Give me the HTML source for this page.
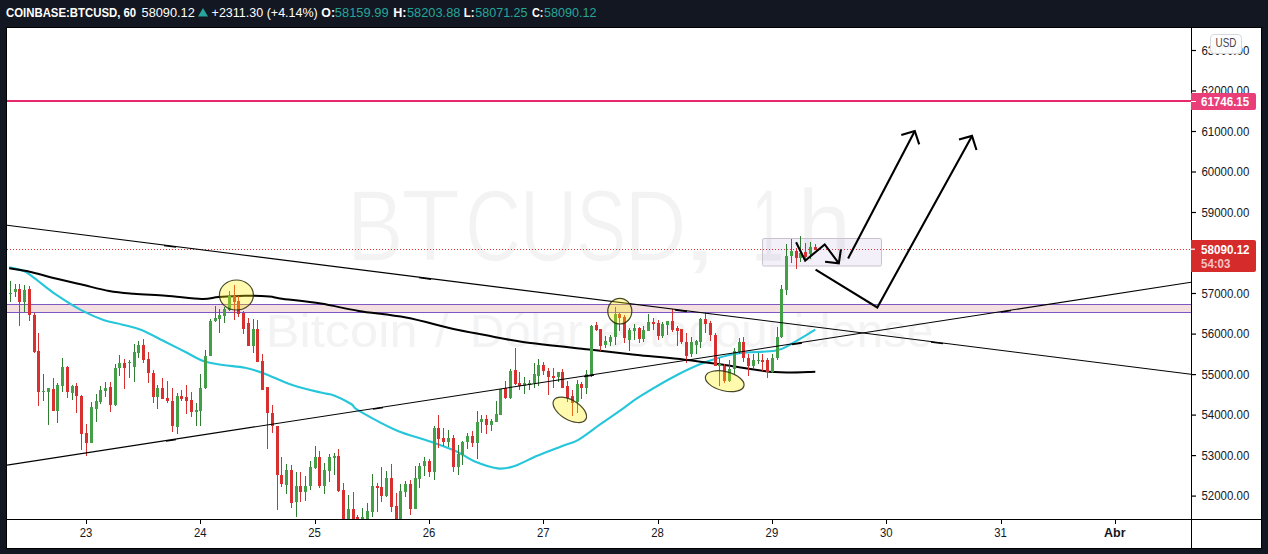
<!DOCTYPE html><html><head><meta charset="utf-8"><style>
html,body{margin:0;padding:0;width:1268px;height:554px;overflow:hidden;background:#131722}
svg{position:absolute;left:0;top:0;display:block}
text{font-family:"Liberation Sans",sans-serif}
</style></head><body>
<svg width="1268" height="554" viewBox="0 0 1268 554">
<defs><clipPath id="pane"><rect x="7" y="28" width="1184" height="491"/></clipPath></defs>
<rect x="0" y="0" width="1268" height="554" fill="#131722"/>
<rect x="6" y="27" width="1256" height="522" fill="#000"/>
<rect x="7" y="28" width="1254" height="520" fill="#fff"/>
<g font-size="12.6">
<text x="6.0" y="17" fill="#ffffff" font-weight="bold" textLength="130.2" lengthAdjust="spacingAndGlyphs">COINBASE:BTCUSD, 60</text>
<text x="141.6" y="17" fill="#ffffff" textLength="53.2" lengthAdjust="spacingAndGlyphs">58090.12</text>
<path d="M198 16.6 L203 8 L208 16.6 Z" fill="#26a69a"/>
<text x="211.6" y="17" fill="#ffffff" textLength="106.2" lengthAdjust="spacingAndGlyphs">+2311.30 (+4.14%)</text>
<text x="321.3" y="17" fill="#ffffff" font-weight="bold" textLength="13.7" lengthAdjust="spacingAndGlyphs">O:</text>
<text x="334.8" y="17" fill="#26a69a" textLength="53.8" lengthAdjust="spacingAndGlyphs">58159.99</text>
<text x="393.2" y="17" fill="#ffffff" font-weight="bold" textLength="13.3" lengthAdjust="spacingAndGlyphs">H:</text>
<text x="407.0" y="17" fill="#26a69a" textLength="53.4" lengthAdjust="spacingAndGlyphs">58203.88</text>
<text x="463.8" y="17" fill="#ffffff" font-weight="bold" textLength="10.7" lengthAdjust="spacingAndGlyphs">L:</text>
<text x="475.2" y="17" fill="#26a69a" textLength="52.4" lengthAdjust="spacingAndGlyphs">58071.25</text>
<text x="532.0" y="17" fill="#ffffff" font-weight="bold" textLength="11.5" lengthAdjust="spacingAndGlyphs">C:</text>
<text x="544.1" y="17" fill="#26a69a" textLength="52.5" lengthAdjust="spacingAndGlyphs">58090.12</text>
</g>
<g clip-path="url(#pane)">
<text x="346.8" y="261" font-size="102" fill="#f3f3f4" stroke="#fff" stroke-width="1.4" textLength="56.8" lengthAdjust="spacingAndGlyphs">B</text>
<text x="401.0" y="261" font-size="102" fill="#f3f3f4" stroke="#fff" stroke-width="1.4" textLength="59.1" lengthAdjust="spacingAndGlyphs">T</text>
<text x="465.1" y="261" font-size="102" fill="#f3f3f4" stroke="#fff" stroke-width="1.4" textLength="56.3" lengthAdjust="spacingAndGlyphs">C</text>
<text x="519.5" y="261" font-size="102" fill="#f3f3f4" stroke="#fff" stroke-width="1.4" textLength="58.3" lengthAdjust="spacingAndGlyphs">U</text>
<text x="576.0" y="261" font-size="102" fill="#f3f3f4" stroke="#fff" stroke-width="1.4" textLength="50.4" lengthAdjust="spacingAndGlyphs">S</text>
<text x="623.9" y="261" font-size="102" fill="#f3f3f4" stroke="#fff" stroke-width="1.4" textLength="62.7" lengthAdjust="spacingAndGlyphs">D</text>
<text x="677.1" y="261" font-size="102" fill="#f3f3f4" stroke="#fff" stroke-width="1.4" textLength="45.4" lengthAdjust="spacingAndGlyphs">,</text>
<text x="751.8" y="261" font-size="102" fill="#f3f3f4" stroke="#fff" stroke-width="0.7" textLength="32.0" lengthAdjust="spacingAndGlyphs">1</text>
<text x="797.2" y="261" font-size="102" fill="#f3f3f4" stroke="#fff" stroke-width="0.7" textLength="54.2" lengthAdjust="spacingAndGlyphs">h</text>
<text x="265.8" y="347.3" font-size="45.8" fill="#f3f3f4" textLength="151.7" lengthAdjust="spacingAndGlyphs">Bitcoin</text>
<text x="435.0" y="347.3" font-size="45.8" fill="#f3f3f4" textLength="13.5" lengthAdjust="spacingAndGlyphs">/</text>
<text x="470.0" y="347.3" font-size="45.8" fill="#f3f3f4" textLength="113.0" lengthAdjust="spacingAndGlyphs">Dólar</text>
<text x="599.0" y="347.3" font-size="45.8" fill="#f3f3f4" textLength="334.0" lengthAdjust="spacingAndGlyphs">estadounidense</text>
<rect x="7" y="305" width="1184" height="7" fill="#f4dfe1"/>
<rect x="7" y="304" width="1184" height="1" fill="#7e57c2"/>
<rect x="7" y="312" width="1184" height="1" fill="#7e57c2"/>
<rect x="7" y="100" width="1184" height="2" fill="#e7286c"/>
<line x1="7" y1="249.5" x2="1191" y2="249.5" stroke="#e0302f" stroke-width="1" stroke-dasharray="1 2"/>
<rect x="762.5" y="238.5" width="119" height="27.5" rx="1.5" fill="rgba(150,110,200,0.1)" stroke="#c8c3cc" stroke-width="1"/>
<path d="M9.2 267.3 C11.6 267.9 19.9 269.4 23.9 271.1 C27.9 272.8 28.0 273.4 33.4 277.3 C38.8 281.2 48.2 289.3 56.1 294.7 C64.0 300.1 72.8 305.7 80.7 309.9 C88.6 314.1 96.4 317.5 103.4 320.0 C110.4 322.5 116.2 323.0 122.5 324.7 C128.8 326.4 134.2 327.1 141.5 330.0 C148.8 332.9 158.8 338.7 166.1 342.3 C173.3 345.9 178.7 348.6 185.0 351.8 C191.3 355.0 197.7 359.1 204.0 361.3 C210.3 363.5 216.2 363.9 223.0 365.0 C229.8 366.1 238.2 366.4 245.0 367.8 C251.8 369.2 256.1 370.5 264.0 373.4 C271.9 376.3 282.9 381.8 292.4 385.0 C301.9 388.2 313.9 390.9 320.8 392.6 C327.8 394.3 329.0 393.5 334.1 395.4 C339.2 397.3 347.1 401.5 351.2 404.0 C355.3 406.5 351.1 406.2 358.7 410.6 C366.3 415.0 385.3 425.5 396.7 430.5 C408.1 435.5 417.1 436.9 427.0 440.4 C436.9 443.9 448.2 447.8 456.1 451.3 C464.0 454.8 467.3 458.4 474.2 461.2 C481.1 464.0 491.0 467.5 497.6 468.4 C504.2 469.2 507.3 468.4 513.9 466.3 C520.5 464.2 528.9 459.3 537.3 455.8 C545.7 452.3 557.5 448.0 564.4 445.3 C571.3 442.6 572.8 443.1 578.8 439.6 C584.8 436.1 593.6 429.0 600.5 424.2 C607.4 419.4 613.4 415.3 620.0 410.7 C626.6 406.1 630.4 402.4 640.0 396.4 C649.6 390.4 666.5 380.4 677.5 374.7 C688.5 369.0 696.2 365.5 705.9 362.0 C715.6 358.5 724.4 355.6 735.9 353.7 C747.4 351.8 765.9 352.2 774.9 350.7 C783.9 349.2 783.1 348.2 789.8 344.7 C796.5 341.2 811.0 332.2 815.3 329.7" fill="none" stroke="#26c6da" stroke-width="2.1" stroke-linejoin="round"/>
<path d="M9.2 268.3 C12.6 268.9 22.4 270.1 29.6 271.7 C36.8 273.3 43.8 275.6 52.3 277.7 C60.8 279.8 71.2 282.1 80.7 284.3 C90.2 286.5 100.3 289.4 109.1 291.0 C117.9 292.6 124.2 293.0 133.7 293.8 C143.2 294.6 154.5 294.9 165.9 295.7 C177.3 296.5 193.1 298.7 201.9 298.9 C210.7 299.1 211.8 297.5 218.9 297.0 C226.0 296.5 236.1 295.8 244.6 295.7 C253.1 295.6 263.7 296.2 269.6 296.6 C275.5 297.1 271.5 297.2 280.0 298.4 C288.5 299.6 307.7 301.5 320.8 303.6 C333.9 305.7 344.5 308.6 358.7 310.9 C372.9 313.2 390.2 314.5 406.0 317.5 C421.8 320.5 440.3 326.0 453.5 328.9 C466.7 331.8 473.4 332.8 485.0 335.0 C496.6 337.2 505.5 339.5 522.9 341.9 C540.3 344.3 569.8 347.3 589.3 349.5 C608.8 351.7 624.0 353.5 640.0 355.2 C656.0 356.9 670.0 357.9 685.0 359.7 C700.0 361.4 714.9 363.6 729.9 365.7 C744.9 367.8 760.7 371.1 774.9 372.1 C789.1 373.1 808.6 371.8 815.3 371.7" fill="none" stroke="#000" stroke-width="2.0" stroke-linejoin="round"/>
<rect x="10" y="281" width="1" height="21" fill="#2e7d32"/><rect x="9" y="293" width="3" height="1" fill="#43a047"/><rect x="15" y="284" width="1" height="13" fill="#2e7d32"/><rect x="14" y="289" width="3" height="3" fill="#43a047"/><rect x="19" y="284" width="1" height="42" fill="#d82f2f"/><rect x="18" y="289" width="3" height="13" fill="#d82f2f"/><rect x="24" y="285" width="1" height="27" fill="#2e7d32"/><rect x="23" y="290" width="3" height="12" fill="#43a047"/><rect x="29" y="286" width="1" height="35" fill="#d82f2f"/><rect x="28" y="289" width="3" height="26" fill="#d82f2f"/><rect x="34" y="313" width="1" height="40" fill="#d82f2f"/><rect x="33" y="315" width="3" height="37" fill="#d82f2f"/><rect x="38" y="333" width="1" height="73" fill="#d82f2f"/><rect x="37" y="351" width="3" height="41" fill="#d82f2f"/><rect x="43" y="374" width="1" height="27" fill="#2e7d32"/><rect x="42" y="391" width="3" height="1" fill="#43a047"/><rect x="48" y="388" width="1" height="37" fill="#2e7d32"/><rect x="47" y="388" width="3" height="4" fill="#43a047"/><rect x="53" y="378" width="1" height="33" fill="#d82f2f"/><rect x="52" y="389" width="3" height="22" fill="#d82f2f"/><rect x="57" y="383" width="1" height="40" fill="#2e7d32"/><rect x="56" y="385" width="3" height="26" fill="#43a047"/><rect x="62" y="358" width="1" height="34" fill="#2e7d32"/><rect x="61" y="367" width="3" height="19" fill="#43a047"/><rect x="67" y="366" width="1" height="32" fill="#d82f2f"/><rect x="66" y="367" width="3" height="25" fill="#d82f2f"/><rect x="72" y="385" width="1" height="15" fill="#2e7d32"/><rect x="71" y="386" width="3" height="7" fill="#43a047"/><rect x="76" y="383" width="1" height="30" fill="#d82f2f"/><rect x="75" y="386" width="3" height="10" fill="#d82f2f"/><rect x="81" y="395" width="1" height="55" fill="#d82f2f"/><rect x="80" y="396" width="3" height="38" fill="#d82f2f"/><rect x="86" y="424" width="1" height="32" fill="#d82f2f"/><rect x="85" y="433" width="3" height="10" fill="#d82f2f"/><rect x="91" y="402" width="1" height="41" fill="#2e7d32"/><rect x="90" y="407" width="3" height="36" fill="#43a047"/><rect x="96" y="394" width="1" height="28" fill="#2e7d32"/><rect x="95" y="401" width="3" height="8" fill="#43a047"/><rect x="100" y="386" width="1" height="18" fill="#2e7d32"/><rect x="99" y="390" width="3" height="12" fill="#43a047"/><rect x="105" y="382" width="1" height="15" fill="#2e7d32"/><rect x="104" y="388" width="3" height="3" fill="#43a047"/><rect x="110" y="382" width="1" height="30" fill="#d82f2f"/><rect x="109" y="387" width="3" height="18" fill="#d82f2f"/><rect x="115" y="364" width="1" height="42" fill="#2e7d32"/><rect x="114" y="368" width="3" height="37" fill="#43a047"/><rect x="119" y="355" width="1" height="21" fill="#2e7d32"/><rect x="118" y="363" width="3" height="5" fill="#43a047"/><rect x="124" y="359" width="1" height="30" fill="#d82f2f"/><rect x="123" y="363" width="3" height="5" fill="#d82f2f"/><rect x="129" y="360" width="1" height="18" fill="#2e7d32"/><rect x="128" y="362" width="3" height="1" fill="#43a047"/><rect x="134" y="344" width="1" height="38" fill="#2e7d32"/><rect x="133" y="352" width="3" height="15" fill="#43a047"/><rect x="138" y="341" width="1" height="17" fill="#2e7d32"/><rect x="137" y="345" width="3" height="8" fill="#43a047"/><rect x="143" y="339" width="1" height="24" fill="#d82f2f"/><rect x="142" y="345" width="3" height="15" fill="#d82f2f"/><rect x="148" y="352" width="1" height="31" fill="#d82f2f"/><rect x="147" y="359" width="3" height="14" fill="#d82f2f"/><rect x="153" y="370" width="1" height="33" fill="#d82f2f"/><rect x="152" y="373" width="3" height="24" fill="#d82f2f"/><rect x="157" y="385" width="1" height="24" fill="#2e7d32"/><rect x="156" y="388" width="3" height="9" fill="#43a047"/><rect x="162" y="378" width="1" height="21" fill="#d82f2f"/><rect x="161" y="388" width="3" height="11" fill="#d82f2f"/><rect x="167" y="381" width="1" height="22" fill="#d82f2f"/><rect x="166" y="398" width="3" height="3" fill="#d82f2f"/><rect x="172" y="388" width="1" height="44" fill="#d82f2f"/><rect x="171" y="401" width="3" height="25" fill="#d82f2f"/><rect x="177" y="393" width="1" height="41" fill="#2e7d32"/><rect x="176" y="396" width="3" height="31" fill="#43a047"/><rect x="181" y="390" width="1" height="11" fill="#d82f2f"/><rect x="180" y="396" width="3" height="3" fill="#d82f2f"/><rect x="186" y="385" width="1" height="29" fill="#d82f2f"/><rect x="185" y="397" width="3" height="4" fill="#d82f2f"/><rect x="191" y="392" width="1" height="25" fill="#d82f2f"/><rect x="190" y="400" width="3" height="12" fill="#d82f2f"/><rect x="196" y="403" width="1" height="23" fill="#2e7d32"/><rect x="195" y="410" width="3" height="2" fill="#43a047"/><rect x="200" y="374" width="1" height="52" fill="#2e7d32"/><rect x="199" y="388" width="3" height="23" fill="#43a047"/><rect x="205" y="350" width="1" height="39" fill="#2e7d32"/><rect x="204" y="356" width="3" height="32" fill="#43a047"/><rect x="210" y="319" width="1" height="37" fill="#2e7d32"/><rect x="209" y="321" width="3" height="35" fill="#43a047"/><rect x="215" y="306" width="1" height="16" fill="#2e7d32"/><rect x="214" y="318" width="3" height="3" fill="#43a047"/><rect x="219" y="309" width="1" height="24" fill="#2e7d32"/><rect x="218" y="315" width="3" height="4" fill="#43a047"/><rect x="224" y="307" width="1" height="16" fill="#2e7d32"/><rect x="223" y="309" width="3" height="7" fill="#43a047"/><rect x="229" y="291" width="1" height="20" fill="#2e7d32"/><rect x="228" y="296" width="3" height="14" fill="#43a047"/><rect x="234" y="285" width="1" height="35" fill="#d82f2f"/><rect x="233" y="296" width="3" height="6" fill="#d82f2f"/><rect x="238" y="296" width="1" height="21" fill="#d82f2f"/><rect x="237" y="301" width="3" height="13" fill="#d82f2f"/><rect x="243" y="311" width="1" height="23" fill="#d82f2f"/><rect x="242" y="313" width="3" height="16" fill="#d82f2f"/><rect x="248" y="318" width="1" height="28" fill="#d82f2f"/><rect x="247" y="323" width="3" height="23" fill="#d82f2f"/><rect x="253" y="319" width="1" height="34" fill="#2e7d32"/><rect x="252" y="329" width="3" height="17" fill="#43a047"/><rect x="257" y="320" width="1" height="42" fill="#d82f2f"/><rect x="256" y="329" width="3" height="33" fill="#d82f2f"/><rect x="262" y="354" width="1" height="36" fill="#d82f2f"/><rect x="261" y="361" width="3" height="29" fill="#d82f2f"/><rect x="267" y="387" width="1" height="62" fill="#d82f2f"/><rect x="266" y="387" width="3" height="26" fill="#d82f2f"/><rect x="272" y="405" width="1" height="28" fill="#d82f2f"/><rect x="271" y="413" width="3" height="13" fill="#d82f2f"/><rect x="277" y="426" width="1" height="84" fill="#d82f2f"/><rect x="276" y="426" width="3" height="49" fill="#d82f2f"/><rect x="281" y="457" width="1" height="30" fill="#d82f2f"/><rect x="280" y="475" width="3" height="9" fill="#d82f2f"/><rect x="286" y="464" width="1" height="30" fill="#2e7d32"/><rect x="285" y="470" width="3" height="15" fill="#43a047"/><rect x="291" y="465" width="1" height="43" fill="#d82f2f"/><rect x="290" y="470" width="3" height="33" fill="#d82f2f"/><rect x="296" y="472" width="1" height="45" fill="#2e7d32"/><rect x="295" y="486" width="3" height="16" fill="#43a047"/><rect x="300" y="472" width="1" height="30" fill="#d82f2f"/><rect x="299" y="486" width="3" height="6" fill="#d82f2f"/><rect x="305" y="476" width="1" height="25" fill="#2e7d32"/><rect x="304" y="486" width="3" height="6" fill="#43a047"/><rect x="310" y="461" width="1" height="29" fill="#2e7d32"/><rect x="309" y="467" width="3" height="19" fill="#43a047"/><rect x="315" y="446" width="1" height="23" fill="#2e7d32"/><rect x="314" y="457" width="3" height="11" fill="#43a047"/><rect x="319" y="451" width="1" height="37" fill="#d82f2f"/><rect x="318" y="457" width="3" height="29" fill="#d82f2f"/><rect x="324" y="463" width="1" height="31" fill="#2e7d32"/><rect x="323" y="470" width="3" height="16" fill="#43a047"/><rect x="329" y="454" width="1" height="28" fill="#2e7d32"/><rect x="328" y="457" width="3" height="14" fill="#43a047"/><rect x="334" y="453" width="1" height="22" fill="#2e7d32"/><rect x="333" y="456" width="3" height="2" fill="#43a047"/><rect x="338" y="449" width="1" height="43" fill="#d82f2f"/><rect x="337" y="456" width="3" height="35" fill="#d82f2f"/><rect x="343" y="483" width="1" height="39" fill="#d82f2f"/><rect x="342" y="490" width="3" height="32" fill="#d82f2f"/><rect x="348" y="495" width="1" height="27" fill="#2e7d32"/><rect x="347" y="509" width="3" height="13" fill="#43a047"/><rect x="353" y="492" width="1" height="30" fill="#d82f2f"/><rect x="352" y="509" width="3" height="13" fill="#d82f2f"/><rect x="357" y="515" width="1" height="7" fill="#d82f2f"/><rect x="356" y="517" width="3" height="5" fill="#d82f2f"/><rect x="362" y="508" width="1" height="14" fill="#2e7d32"/><rect x="361" y="517" width="3" height="5" fill="#43a047"/><rect x="367" y="503" width="1" height="19" fill="#2e7d32"/><rect x="366" y="511" width="3" height="11" fill="#43a047"/><rect x="372" y="474" width="1" height="43" fill="#2e7d32"/><rect x="371" y="486" width="3" height="26" fill="#43a047"/><rect x="377" y="483" width="1" height="29" fill="#d82f2f"/><rect x="376" y="486" width="3" height="2" fill="#d82f2f"/><rect x="381" y="467" width="1" height="35" fill="#d82f2f"/><rect x="380" y="487" width="3" height="9" fill="#d82f2f"/><rect x="386" y="471" width="1" height="26" fill="#2e7d32"/><rect x="385" y="478" width="3" height="18" fill="#43a047"/><rect x="391" y="464" width="1" height="48" fill="#d82f2f"/><rect x="390" y="478" width="3" height="29" fill="#d82f2f"/><rect x="396" y="493" width="1" height="29" fill="#d82f2f"/><rect x="395" y="506" width="3" height="16" fill="#d82f2f"/><rect x="400" y="484" width="1" height="38" fill="#2e7d32"/><rect x="399" y="491" width="3" height="31" fill="#43a047"/><rect x="405" y="481" width="1" height="16" fill="#2e7d32"/><rect x="404" y="484" width="3" height="8" fill="#43a047"/><rect x="410" y="480" width="1" height="35" fill="#d82f2f"/><rect x="409" y="484" width="3" height="25" fill="#d82f2f"/><rect x="415" y="466" width="1" height="43" fill="#2e7d32"/><rect x="414" y="478" width="3" height="31" fill="#43a047"/><rect x="419" y="463" width="1" height="25" fill="#2e7d32"/><rect x="418" y="466" width="3" height="13" fill="#43a047"/><rect x="424" y="457" width="1" height="19" fill="#2e7d32"/><rect x="423" y="461" width="3" height="5" fill="#43a047"/><rect x="429" y="459" width="1" height="18" fill="#d82f2f"/><rect x="428" y="461" width="3" height="11" fill="#d82f2f"/><rect x="434" y="426" width="1" height="54" fill="#2e7d32"/><rect x="433" y="428" width="3" height="44" fill="#43a047"/><rect x="438" y="415" width="1" height="33" fill="#d82f2f"/><rect x="437" y="428" width="3" height="11" fill="#d82f2f"/><rect x="443" y="428" width="1" height="18" fill="#d82f2f"/><rect x="442" y="438" width="3" height="4" fill="#d82f2f"/><rect x="448" y="430" width="1" height="17" fill="#2e7d32"/><rect x="447" y="438" width="3" height="4" fill="#43a047"/><rect x="453" y="435" width="1" height="37" fill="#d82f2f"/><rect x="452" y="438" width="3" height="29" fill="#d82f2f"/><rect x="458" y="445" width="1" height="30" fill="#2e7d32"/><rect x="457" y="454" width="3" height="13" fill="#43a047"/><rect x="462" y="441" width="1" height="24" fill="#2e7d32"/><rect x="461" y="442" width="3" height="13" fill="#43a047"/><rect x="467" y="433" width="1" height="16" fill="#2e7d32"/><rect x="466" y="436" width="3" height="6" fill="#43a047"/><rect x="472" y="431" width="1" height="16" fill="#d82f2f"/><rect x="471" y="436" width="3" height="7" fill="#d82f2f"/><rect x="477" y="411" width="1" height="48" fill="#2e7d32"/><rect x="476" y="422" width="3" height="21" fill="#43a047"/><rect x="481" y="415" width="1" height="18" fill="#2e7d32"/><rect x="480" y="419" width="3" height="3" fill="#43a047"/><rect x="486" y="415" width="1" height="19" fill="#d82f2f"/><rect x="485" y="419" width="3" height="6" fill="#d82f2f"/><rect x="491" y="419" width="1" height="12" fill="#2e7d32"/><rect x="490" y="421" width="3" height="4" fill="#43a047"/><rect x="496" y="401" width="1" height="21" fill="#2e7d32"/><rect x="495" y="414" width="3" height="8" fill="#43a047"/><rect x="500" y="389" width="1" height="26" fill="#2e7d32"/><rect x="499" y="389" width="3" height="26" fill="#43a047"/><rect x="505" y="381" width="1" height="18" fill="#d82f2f"/><rect x="504" y="388" width="3" height="10" fill="#d82f2f"/><rect x="510" y="369" width="1" height="30" fill="#2e7d32"/><rect x="509" y="371" width="3" height="27" fill="#43a047"/><rect x="515" y="348" width="1" height="37" fill="#d82f2f"/><rect x="514" y="370" width="3" height="14" fill="#d82f2f"/><rect x="519" y="372" width="1" height="18" fill="#d82f2f"/><rect x="518" y="383" width="3" height="3" fill="#d82f2f"/><rect x="524" y="377" width="1" height="17" fill="#2e7d32"/><rect x="523" y="383" width="3" height="3" fill="#43a047"/><rect x="529" y="380" width="1" height="10" fill="#2e7d32"/><rect x="528" y="383" width="3" height="2" fill="#43a047"/><rect x="534" y="363" width="1" height="25" fill="#2e7d32"/><rect x="533" y="374" width="3" height="9" fill="#43a047"/><rect x="538" y="359" width="1" height="27" fill="#2e7d32"/><rect x="537" y="365" width="3" height="11" fill="#43a047"/><rect x="543" y="362" width="1" height="13" fill="#d82f2f"/><rect x="542" y="365" width="3" height="6" fill="#d82f2f"/><rect x="548" y="368" width="1" height="27" fill="#d82f2f"/><rect x="547" y="371" width="3" height="6" fill="#d82f2f"/><rect x="553" y="368" width="1" height="20" fill="#d82f2f"/><rect x="552" y="376" width="3" height="2" fill="#d82f2f"/><rect x="558" y="372" width="1" height="10" fill="#2e7d32"/><rect x="557" y="372" width="3" height="5" fill="#43a047"/><rect x="562" y="369" width="1" height="19" fill="#d82f2f"/><rect x="561" y="372" width="3" height="16" fill="#d82f2f"/><rect x="567" y="381" width="1" height="21" fill="#d82f2f"/><rect x="566" y="386" width="3" height="12" fill="#d82f2f"/><rect x="572" y="390" width="1" height="26" fill="#d82f2f"/><rect x="571" y="396" width="3" height="7" fill="#d82f2f"/><rect x="577" y="380" width="1" height="33" fill="#2e7d32"/><rect x="576" y="384" width="3" height="18" fill="#43a047"/><rect x="581" y="382" width="1" height="17" fill="#d82f2f"/><rect x="580" y="384" width="3" height="4" fill="#d82f2f"/><rect x="586" y="370" width="1" height="24" fill="#2e7d32"/><rect x="585" y="374" width="3" height="14" fill="#43a047"/><rect x="591" y="325" width="1" height="52" fill="#2e7d32"/><rect x="590" y="326" width="3" height="49" fill="#43a047"/><rect x="596" y="322" width="1" height="9" fill="#d82f2f"/><rect x="595" y="325" width="3" height="5" fill="#d82f2f"/><rect x="600" y="329" width="1" height="22" fill="#d82f2f"/><rect x="599" y="329" width="3" height="17" fill="#d82f2f"/><rect x="605" y="336" width="1" height="12" fill="#2e7d32"/><rect x="604" y="341" width="3" height="4" fill="#43a047"/><rect x="610" y="335" width="1" height="11" fill="#2e7d32"/><rect x="609" y="337" width="3" height="5" fill="#43a047"/><rect x="615" y="307" width="1" height="38" fill="#2e7d32"/><rect x="614" y="314" width="3" height="23" fill="#43a047"/><rect x="619" y="313" width="1" height="18" fill="#d82f2f"/><rect x="618" y="314" width="3" height="4" fill="#d82f2f"/><rect x="624" y="315" width="1" height="28" fill="#d82f2f"/><rect x="623" y="317" width="3" height="21" fill="#d82f2f"/><rect x="629" y="328" width="1" height="23" fill="#2e7d32"/><rect x="628" y="330" width="3" height="10" fill="#43a047"/><rect x="634" y="324" width="1" height="16" fill="#2e7d32"/><rect x="633" y="328" width="3" height="3" fill="#43a047"/><rect x="639" y="327" width="1" height="16" fill="#d82f2f"/><rect x="638" y="328" width="3" height="11" fill="#d82f2f"/><rect x="643" y="326" width="1" height="16" fill="#2e7d32"/><rect x="642" y="330" width="3" height="9" fill="#43a047"/><rect x="648" y="314" width="1" height="17" fill="#2e7d32"/><rect x="647" y="322" width="3" height="9" fill="#43a047"/><rect x="653" y="318" width="1" height="12" fill="#d82f2f"/><rect x="652" y="322" width="3" height="2" fill="#d82f2f"/><rect x="658" y="320" width="1" height="20" fill="#d82f2f"/><rect x="657" y="323" width="3" height="13" fill="#d82f2f"/><rect x="662" y="322" width="1" height="16" fill="#2e7d32"/><rect x="661" y="324" width="3" height="12" fill="#43a047"/><rect x="667" y="321" width="1" height="14" fill="#2e7d32"/><rect x="666" y="321" width="3" height="4" fill="#43a047"/><rect x="672" y="309" width="1" height="23" fill="#d82f2f"/><rect x="671" y="321" width="3" height="9" fill="#d82f2f"/><rect x="677" y="326" width="1" height="20" fill="#d82f2f"/><rect x="676" y="328" width="3" height="3" fill="#d82f2f"/><rect x="681" y="329" width="1" height="15" fill="#d82f2f"/><rect x="680" y="329" width="3" height="13" fill="#d82f2f"/><rect x="686" y="333" width="1" height="30" fill="#d82f2f"/><rect x="685" y="342" width="3" height="14" fill="#d82f2f"/><rect x="691" y="337" width="1" height="20" fill="#2e7d32"/><rect x="690" y="342" width="3" height="12" fill="#43a047"/><rect x="696" y="340" width="1" height="14" fill="#2e7d32"/><rect x="695" y="341" width="3" height="4" fill="#43a047"/><rect x="700" y="318" width="1" height="30" fill="#2e7d32"/><rect x="699" y="319" width="3" height="23" fill="#43a047"/><rect x="705" y="313" width="1" height="20" fill="#d82f2f"/><rect x="704" y="319" width="3" height="5" fill="#d82f2f"/><rect x="710" y="321" width="1" height="20" fill="#d82f2f"/><rect x="709" y="323" width="3" height="12" fill="#d82f2f"/><rect x="715" y="333" width="1" height="33" fill="#d82f2f"/><rect x="714" y="335" width="3" height="31" fill="#d82f2f"/><rect x="719" y="358" width="1" height="28" fill="#2e7d32"/><rect x="718" y="364" width="3" height="2" fill="#43a047"/><rect x="724" y="364" width="1" height="19" fill="#d82f2f"/><rect x="723" y="366" width="3" height="15" fill="#d82f2f"/><rect x="729" y="360" width="1" height="22" fill="#2e7d32"/><rect x="728" y="369" width="3" height="12" fill="#43a047"/><rect x="734" y="348" width="1" height="26" fill="#2e7d32"/><rect x="733" y="351" width="3" height="18" fill="#43a047"/><rect x="739" y="338" width="1" height="16" fill="#2e7d32"/><rect x="738" y="342" width="3" height="10" fill="#43a047"/><rect x="743" y="337" width="1" height="25" fill="#d82f2f"/><rect x="742" y="342" width="3" height="16" fill="#d82f2f"/><rect x="748" y="354" width="1" height="22" fill="#d82f2f"/><rect x="747" y="358" width="3" height="8" fill="#d82f2f"/><rect x="753" y="354" width="1" height="15" fill="#2e7d32"/><rect x="752" y="360" width="3" height="6" fill="#43a047"/><rect x="758" y="353" width="1" height="11" fill="#2e7d32"/><rect x="757" y="360" width="3" height="1" fill="#43a047"/><rect x="762" y="354" width="1" height="17" fill="#d82f2f"/><rect x="761" y="360" width="3" height="2" fill="#d82f2f"/><rect x="767" y="358" width="1" height="20" fill="#d82f2f"/><rect x="766" y="360" width="3" height="12" fill="#d82f2f"/><rect x="772" y="354" width="1" height="19" fill="#2e7d32"/><rect x="771" y="358" width="3" height="14" fill="#43a047"/><rect x="777" y="327" width="1" height="33" fill="#2e7d32"/><rect x="776" y="337" width="3" height="21" fill="#43a047"/><rect x="781" y="285" width="1" height="53" fill="#2e7d32"/><rect x="780" y="289" width="3" height="48" fill="#43a047"/><rect x="786" y="244" width="1" height="51" fill="#2e7d32"/><rect x="785" y="256" width="3" height="34" fill="#43a047"/><rect x="791" y="239" width="1" height="24" fill="#2e7d32"/><rect x="790" y="251" width="3" height="5" fill="#43a047"/><rect x="796" y="248" width="1" height="21" fill="#d82f2f"/><rect x="795" y="251" width="3" height="7" fill="#d82f2f"/><rect x="800" y="236" width="1" height="26" fill="#2e7d32"/><rect x="799" y="253" width="3" height="5" fill="#43a047"/><rect x="805" y="243" width="1" height="16" fill="#d82f2f"/><rect x="804" y="252" width="3" height="5" fill="#d82f2f"/><rect x="810" y="242" width="1" height="17" fill="#2e7d32"/><rect x="809" y="247" width="3" height="7" fill="#43a047"/><rect x="815" y="244" width="1" height="6" fill="#d82f2f"/><rect x="814" y="247" width="3" height="3" fill="#d82f2f"/>
<line x1="7" y1="225.3" x2="1191" y2="374.3" stroke="#000" stroke-width="1.1"/>
<line x1="7" y1="465.1" x2="1191" y2="282.3" stroke="#000" stroke-width="1.1"/>
<line x1="164.0" y1="245.7" x2="176.0" y2="247.2" stroke="#000" stroke-width="1.3"/>
<line x1="419.0" y1="277.7" x2="431.0" y2="279.3" stroke="#000" stroke-width="1.3"/>
<line x1="675.0" y1="310.0" x2="687.0" y2="311.5" stroke="#000" stroke-width="1.3"/>
<line x1="931.0" y1="342.2" x2="943.0" y2="343.7" stroke="#000" stroke-width="1.3"/>
<line x1="166.0" y1="441.2" x2="176.0" y2="439.6" stroke="#000" stroke-width="1.3"/>
<line x1="373.0" y1="409.2" x2="383.0" y2="407.6" stroke="#000" stroke-width="1.3"/>
<line x1="584.0" y1="376.6" x2="594.0" y2="375.1" stroke="#000" stroke-width="1.3"/>
<line x1="792.0" y1="344.5" x2="802.0" y2="343.0" stroke="#000" stroke-width="1.3"/>
<line x1="1001.0" y1="312.2" x2="1011.0" y2="310.7" stroke="#000" stroke-width="1.3"/>
<ellipse cx="236.4" cy="295" rx="17" ry="15" fill="rgba(255,238,0,0.32)" stroke="rgba(40,40,10,0.85)" stroke-width="1.2"/>
<ellipse cx="619.8" cy="311.2" rx="12" ry="12.8" fill="rgba(255,238,0,0.32)" stroke="rgba(40,40,10,0.85)" stroke-width="1.2"/>
<ellipse cx="569.8" cy="409.8" rx="18.6" ry="9.8" transform="rotate(31 569.8 409.8)" fill="rgba(255,238,0,0.32)" stroke="rgba(40,40,10,0.85)" stroke-width="1.2"/>
<ellipse cx="724.7" cy="381.2" rx="19.8" ry="9.6" transform="rotate(14 724.7 381.2)" fill="rgba(255,238,0,0.32)" stroke="rgba(40,40,10,0.85)" stroke-width="1.2"/>
<polyline points="796.1,242.3 805.2,260.7 824.7,244.4 838.8,263.3" stroke="#000" stroke-width="2.1" fill="none" stroke-linecap="butt" stroke-linejoin="miter"/>
<polyline points="825.1,261.8 838.8,263.3 840.9,249.4" stroke="#000" stroke-width="2.1" fill="none" stroke-linecap="butt" stroke-linejoin="miter"/>
<line x1="848.1" y1="258.5" x2="914.8" y2="131" stroke="#000" stroke-width="2.1" fill="none" stroke-linecap="butt" stroke-linejoin="miter"/>
<polyline points="901.3,135 914.8,131 919.2,144.4" stroke="#000" stroke-width="2.1" fill="none" stroke-linecap="butt" stroke-linejoin="miter"/>
<polyline points="815.6,269.6 877.3,307.5 972,135.9" stroke="#000" stroke-width="2.1" fill="none" stroke-linecap="butt" stroke-linejoin="miter"/>
<polyline points="959,139.5 972,135.9 976.5,150" stroke="#000" stroke-width="2.1" fill="none" stroke-linecap="butt" stroke-linejoin="miter"/>
</g>
<rect x="1191" y="28" width="1" height="520" fill="#000"/>
<rect x="7" y="519" width="1254" height="1" fill="#000"/>
<g font-size="12" fill="#131722">
<rect x="1192" y="495.5" width="4" height="1.2" fill="#000"/>
<text x="1201.5" y="500.4" textLength="47.8" lengthAdjust="spacingAndGlyphs">52000.00</text>
<rect x="1192" y="455.0" width="4" height="1.2" fill="#000"/>
<text x="1201.5" y="459.9" textLength="47.8" lengthAdjust="spacingAndGlyphs">53000.00</text>
<rect x="1192" y="414.5" width="4" height="1.2" fill="#000"/>
<text x="1201.5" y="419.4" textLength="47.8" lengthAdjust="spacingAndGlyphs">54000.00</text>
<rect x="1192" y="374.0" width="4" height="1.2" fill="#000"/>
<text x="1201.5" y="378.9" textLength="47.8" lengthAdjust="spacingAndGlyphs">55000.00</text>
<rect x="1192" y="333.5" width="4" height="1.2" fill="#000"/>
<text x="1201.5" y="338.4" textLength="47.8" lengthAdjust="spacingAndGlyphs">56000.00</text>
<rect x="1192" y="292.9" width="4" height="1.2" fill="#000"/>
<text x="1201.5" y="297.8" textLength="47.8" lengthAdjust="spacingAndGlyphs">57000.00</text>
<rect x="1192" y="211.9" width="4" height="1.2" fill="#000"/>
<text x="1201.5" y="216.8" textLength="47.8" lengthAdjust="spacingAndGlyphs">59000.00</text>
<rect x="1192" y="171.4" width="4" height="1.2" fill="#000"/>
<text x="1201.5" y="176.3" textLength="47.8" lengthAdjust="spacingAndGlyphs">60000.00</text>
<rect x="1192" y="130.9" width="4" height="1.2" fill="#000"/>
<text x="1201.5" y="135.8" textLength="47.8" lengthAdjust="spacingAndGlyphs">61000.00</text>
<rect x="1192" y="90.4" width="4" height="1.2" fill="#000"/>
<text x="1201.5" y="95.3" textLength="47.8" lengthAdjust="spacingAndGlyphs">62000.00</text>
<rect x="1192" y="49.9" width="4" height="1.2" fill="#000"/>
<text x="1201.5" y="54.8" textLength="47.8" lengthAdjust="spacingAndGlyphs">63000.00</text>
</g>
<rect x="1210.5" y="34.5" width="31" height="19" rx="3.5" fill="rgba(255,255,255,0.94)" stroke="#d6d9e0" stroke-width="1"/>
<text x="1215.6" y="47.3" font-size="12" fill="#42454c" textLength="20.8" lengthAdjust="spacingAndGlyphs">USD</text>
<path d="M1191 93 H1254 Q1256 93 1256 95 V108 Q1256 110 1254 110 H1191 Z" fill="#e93e78"/>
<rect x="1191" y="101" width="5" height="1" fill="#fff"/>
<text x="1201" y="105.8" font-size="12" font-weight="bold" fill="#fff" textLength="48.2" lengthAdjust="spacingAndGlyphs">61746.15</text>
<path d="M1191 240 H1254 Q1256 240 1256 242 V270 Q1256 272 1254 272 H1191 Z" fill="#d52b2b"/>
<rect x="1191" y="248.6" width="4" height="1.2" fill="#fff"/>
<text x="1201" y="253.8" font-size="12.5" font-weight="bold" fill="#fff" textLength="48.6" lengthAdjust="spacingAndGlyphs">58090.12</text>
<text x="1201" y="268.2" font-size="12" font-weight="bold" fill="rgba(255,255,255,0.72)" textLength="29.4" lengthAdjust="spacingAndGlyphs">54:03</text>
<g font-size="12" fill="#131722">
<rect x="86" y="520" width="1" height="4" fill="#000"/>
<text x="79.7" y="537" textLength="12.6" lengthAdjust="spacingAndGlyphs">23</text>
<rect x="200" y="520" width="1" height="4" fill="#000"/>
<text x="194.0" y="537" textLength="12.6" lengthAdjust="spacingAndGlyphs">24</text>
<rect x="315" y="520" width="1" height="4" fill="#000"/>
<text x="308.3" y="537" textLength="12.6" lengthAdjust="spacingAndGlyphs">25</text>
<rect x="429" y="520" width="1" height="4" fill="#000"/>
<text x="422.7" y="537" textLength="12.6" lengthAdjust="spacingAndGlyphs">26</text>
<rect x="543" y="520" width="1" height="4" fill="#000"/>
<text x="537.0" y="537" textLength="12.6" lengthAdjust="spacingAndGlyphs">27</text>
<rect x="658" y="520" width="1" height="4" fill="#000"/>
<text x="651.3" y="537" textLength="12.6" lengthAdjust="spacingAndGlyphs">28</text>
<rect x="772" y="520" width="1" height="4" fill="#000"/>
<text x="765.6" y="537" textLength="12.6" lengthAdjust="spacingAndGlyphs">29</text>
<rect x="886" y="520" width="1" height="4" fill="#000"/>
<text x="879.9" y="537" textLength="12.6" lengthAdjust="spacingAndGlyphs">30</text>
<rect x="1001" y="520" width="1" height="4" fill="#000"/>
<text x="994.3" y="537" textLength="12.6" lengthAdjust="spacingAndGlyphs">31</text>
<rect x="1115" y="520" width="1" height="4" fill="#000"/>
<text x="1104.1" y="537" textLength="21.5" lengthAdjust="spacingAndGlyphs" font-weight="bold">Abr</text>
</g>
</svg></body></html>
